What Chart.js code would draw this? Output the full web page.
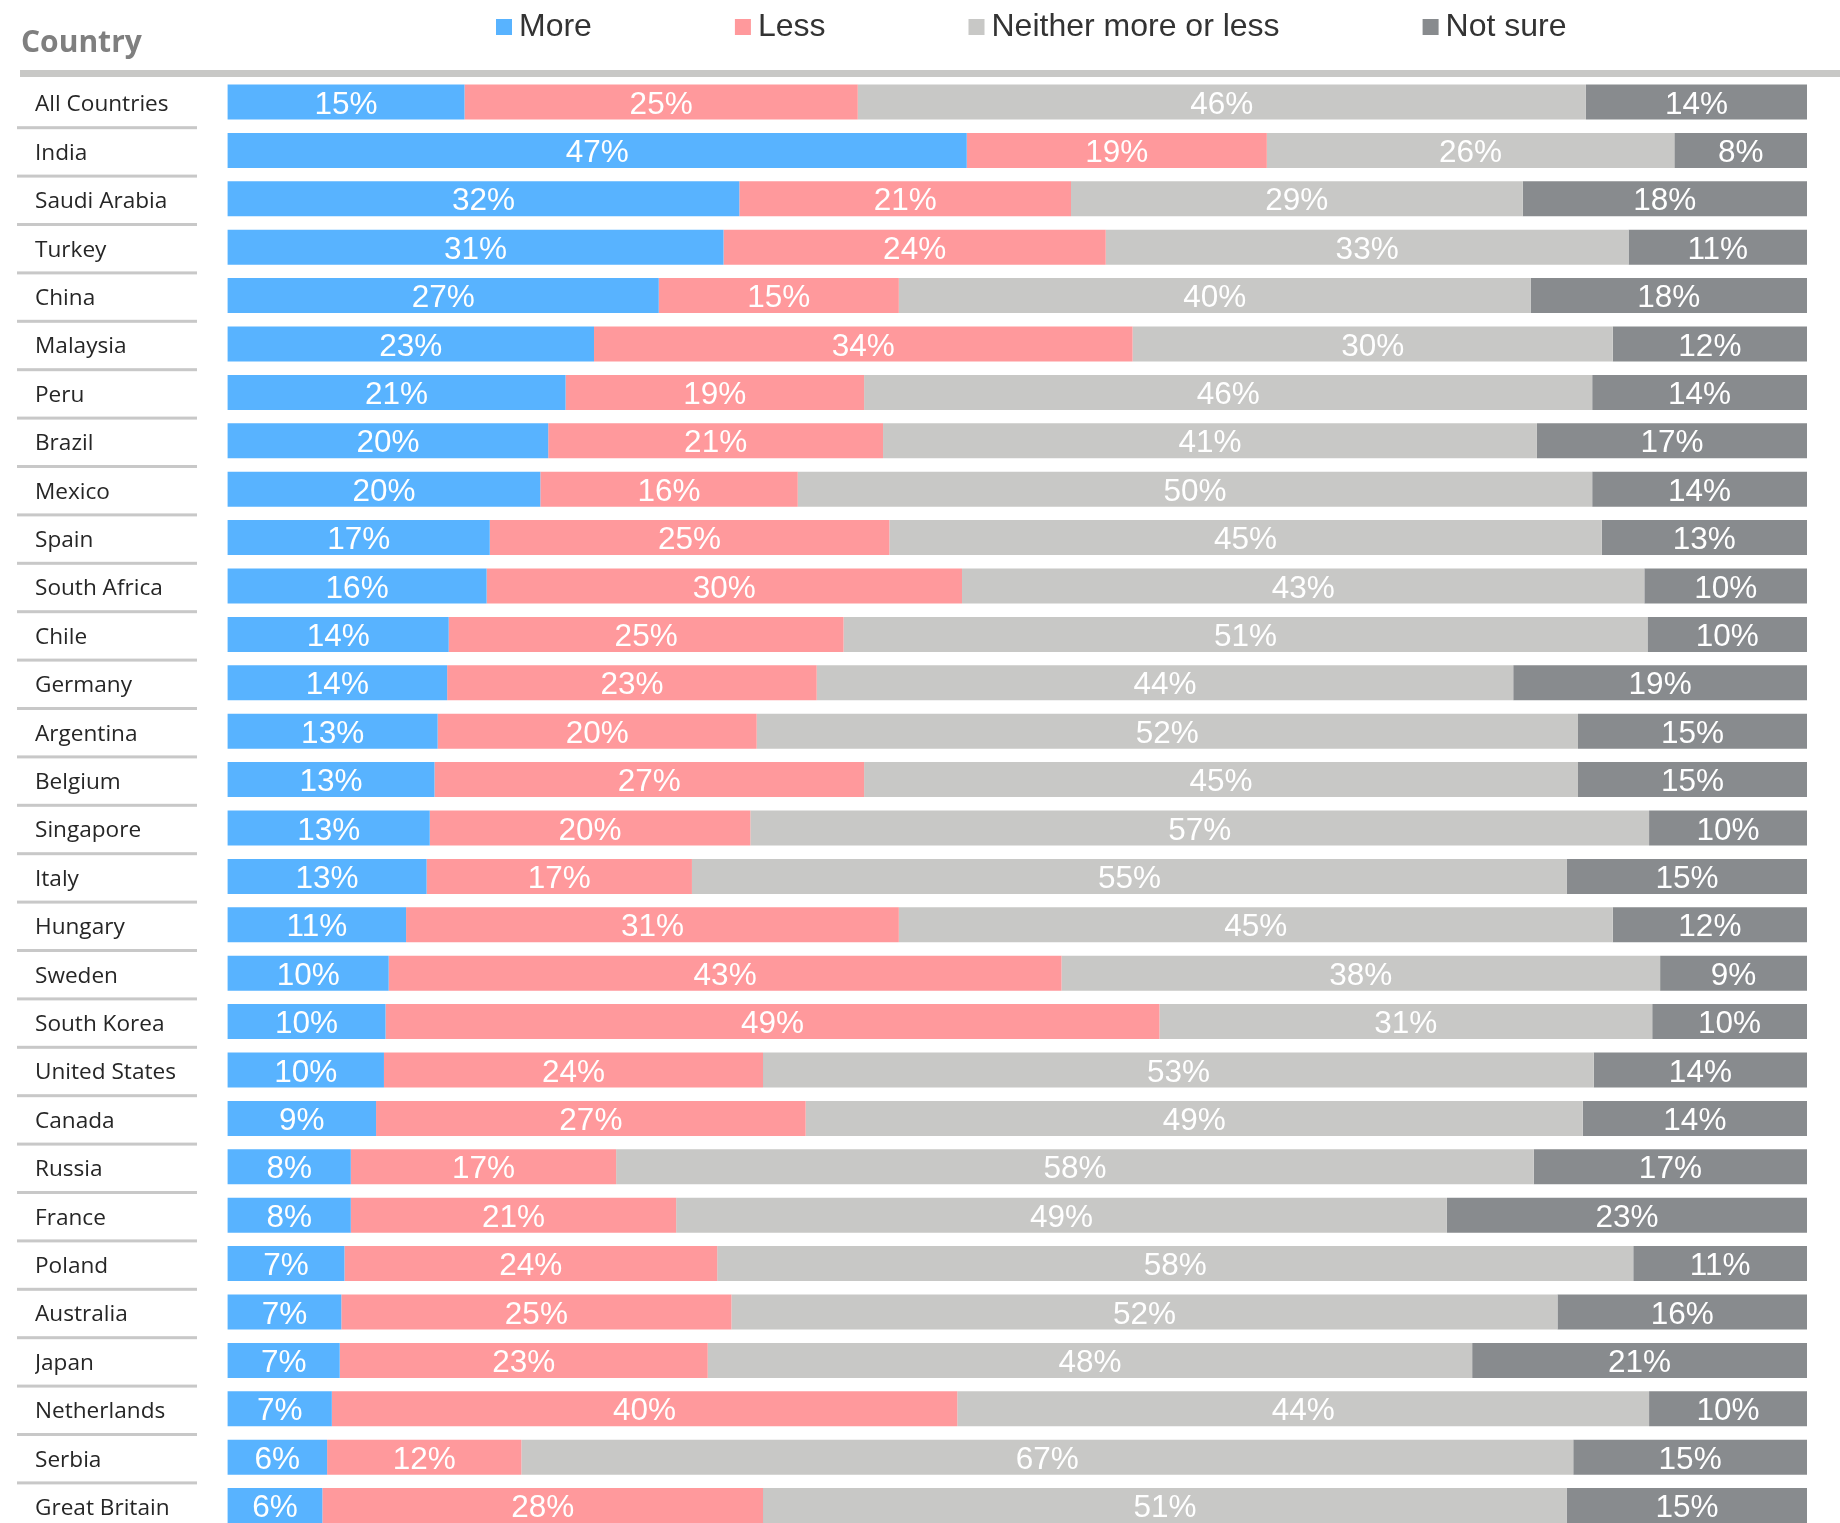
<!DOCTYPE html>
<html><head><meta charset="utf-8">
<script src="https://cdn.jsdelivr.net/npm/chart.js@4.4.1/dist/chart.umd.min.js"></script>
<style>html,body{margin:0;padding:0;background:#fff;overflow:hidden}</style>
</head><body>
<canvas id="c" width="1840" height="1523"></canvas>
<script>
const countries = ['All Countries','India','Saudi Arabia','Turkey','China','Malaysia','Peru','Brazil','Mexico','Spain','South Africa','Chile','Germany','Argentina','Belgium','Singapore','Italy','Hungary','Sweden','South Korea','United States','Canada','Russia','France','Poland','Australia','Japan','Netherlands','Serbia','Great Britain'];
const seriesNames = ['More','Less','Neither more or less','Not sure'];
const more    = [15.0,46.8,32.4,31.4,27.3,23.2,21.4,20.3,19.8,16.6,16.4,14.0,13.9,13.3,13.1,12.8,12.6,11.3,10.2,10.0,9.9,9.4,7.8,7.8,7.4,7.2,7.1,6.6,6.3,6.0];
const less    = [24.9,19.0,21.0,24.2,15.2,34.1,18.9,21.2,16.3,25.3,30.1,25.0,23.4,20.2,27.2,20.3,16.8,31.2,42.6,49.0,24.0,27.2,16.8,20.6,23.6,24.7,23.3,39.6,12.3,27.9];
const neither = [46.1,25.8,28.6,33.1,40.0,30.4,46.1,41.4,50.3,45.1,43.2,50.9,44.1,52.0,45.2,56.9,55.4,45.2,37.9,31.2,52.6,49.2,58.1,48.8,58.0,52.3,48.4,43.8,66.6,50.9];
const notSure = [14.0,8.4,18.0,11.3,17.5,12.3,13.6,17.1,13.6,13.0,10.3,10.1,18.6,14.5,14.5,10.0,15.2,12.3,9.3,9.8,13.5,14.2,17.3,22.8,11.0,15.8,21.2,10.0,14.8,15.2];
const headerText = 'Country';
const colors = ['#58b3ff','#ff999c','#c8c8c6','#888b8e'];

const seriesValues = [more, less, neither, notSure];

const decorPlugin = {
  id: 'decor',
  beforeDraw(chart) {
    const ctx = chart.ctx, y = chart.scales.y;
    ctx.save();
    // header
    ctx.fillStyle = '#7f7f7f';
    ctx.font = 'bold 30px "Open Sans"';
    ctx.textBaseline = 'alphabetic';
    ctx.textAlign = 'left';
    ctx.fillText(headerText, 21, 52);
    // thick rule
    ctx.fillStyle = '#c8c8c6';
    ctx.fillRect(20, 70, chart.width - 20, 7);
    // separators
    ctx.fillStyle = '#c8c8c8';
    for (let i = 0; i < countries.length; i++) {
      const p0 = y.getPixelForValue(i);
      const p1 = i + 1 < countries.length ? y.getPixelForValue(i + 1) : p0 + (p0 - y.getPixelForValue(i - 1));
      const yy = (p0 + p1) / 2 + 1.5;
      ctx.fillRect(17, yy - 1.5, 180, 3);
    }
    // legend
    ctx.font = '32px "Liberation Sans"';
    ctx.textBaseline = 'middle';
    let x = 496;
    chart.data.datasets.forEach(ds => {
      ctx.fillStyle = ds.backgroundColor;
      ctx.fillRect(x, 19, 16, 16);
      ctx.fillStyle = '#333333';
      ctx.fillText(ds.label, x + 23, 27);
      x += 23 + ctx.measureText(ds.label).width + 143;
    });
    ctx.restore();
  },
  afterDatasetsDraw(chart) {
    const ctx = chart.ctx;
    ctx.save();
    ctx.font = '31.5px "Liberation Sans"';
    ctx.fillStyle = '#ffffff';
    ctx.textAlign = 'center';
    ctx.textBaseline = 'middle';
    chart.data.datasets.forEach((ds, di) => {
      const meta = chart.getDatasetMeta(di);
      meta.data.forEach((bar, i) => {
        const v = ds.data[i];
        ctx.fillText(Math.round(v) + '%', (bar.x + bar.base) / 2, bar.y + 3);
      });
    });
    ctx.restore();
  }
};

new Chart(document.getElementById('c'), {
  type: 'bar',
  data: {
    labels: countries,
    datasets: seriesNames.map((n, k) => ({
      label: n,
      data: seriesValues[k],
      backgroundColor: colors[k],
      borderWidth: 0,
      categoryPercentage: 1,
      barPercentage: 0.724,
      clip: false
    }))
  },
  options: {
    indexAxis: 'y',
    responsive: false,
    animation: false,
    devicePixelRatio: 1,
    layout: { padding: { left: 35, right: 33, top: 102, bottom: 17.4 } },
    plugins: { legend: { display: false }, tooltip: { enabled: false } },
    scales: {
      x: { stacked: true, min: 0, max: 100, display: false, grid: { display: false } },
      y: {
        stacked: true,
        offset: false,
        grid: { display: false, drawTicks: false },
        border: { display: false },
        afterFit(s) { s.width = 192.6; },
        ticks: {
          crossAlign: 'far',
          padding: 0,
          labelOffset: 3,
          color: '#262626',
          font: { family: '"Open Sans"', size: 22.6 }
        }
      }
    }
  },
  plugins: [decorPlugin]
});
</script>
</body></html>
